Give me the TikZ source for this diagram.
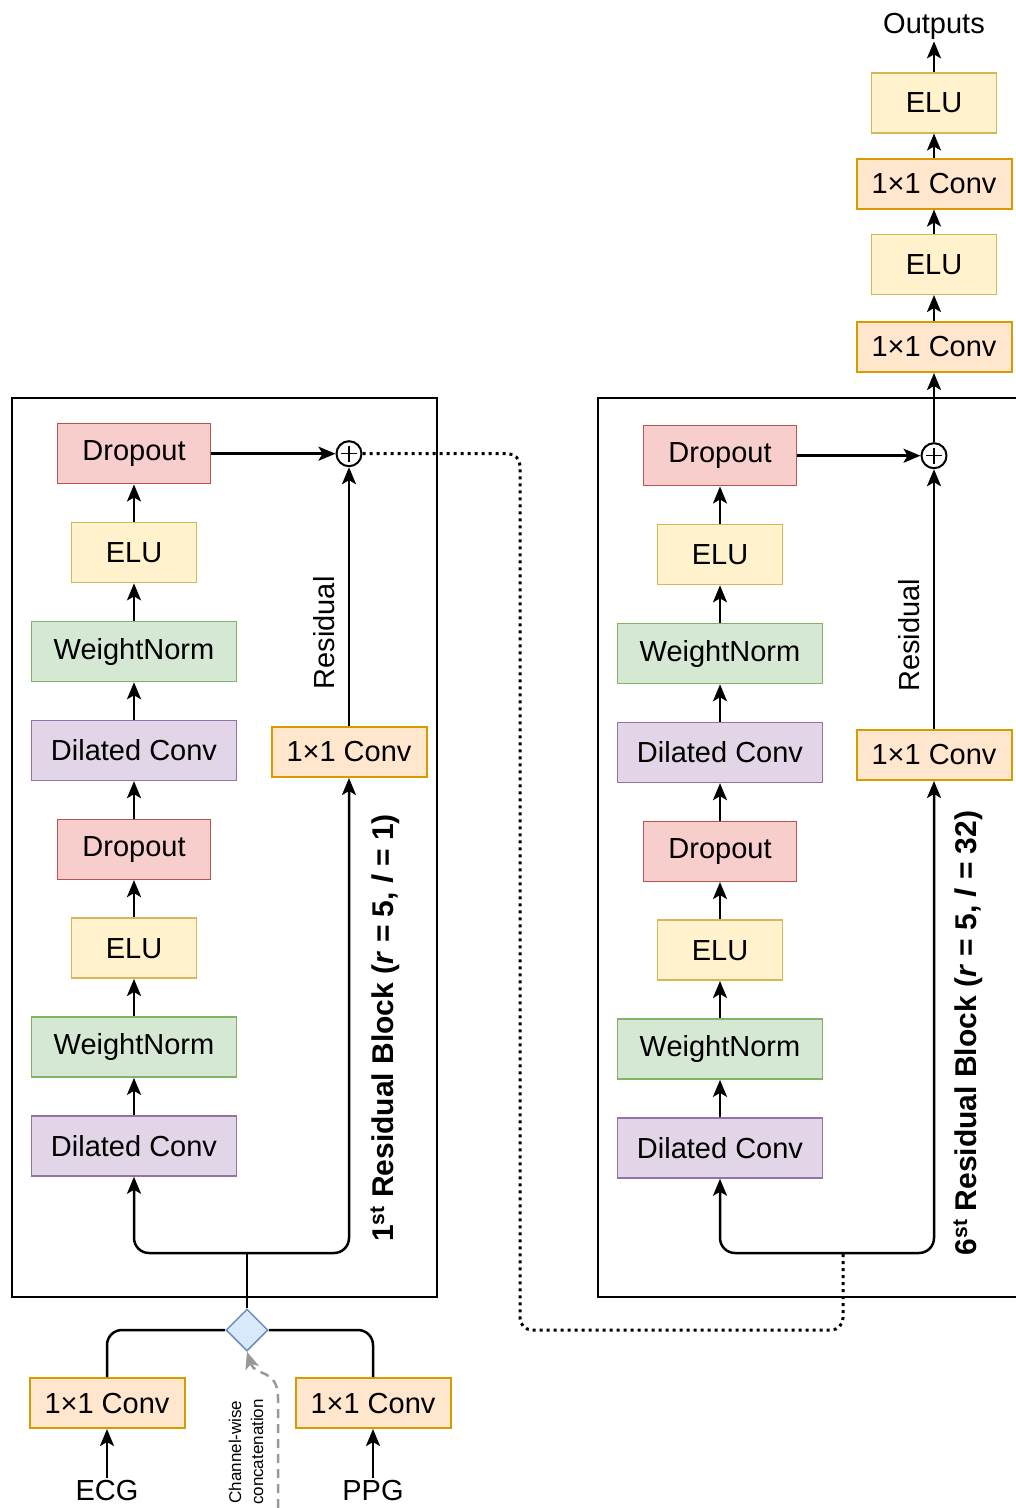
\documentclass[tikz,border=0pt]{standalone}
\usepackage{fontspec}
\setmainfont{Liberation Sans}
\usetikzlibrary{arrows.meta, positioning, calc, shapes.geometric}

\definecolor{dropFill}{HTML}{F8CECC}
\definecolor{dropLine}{HTML}{B85450}
\definecolor{eluFill}{HTML}{FFF2CC}
\definecolor{eluLine}{HTML}{D6B656}
\definecolor{wnFill}{HTML}{D5E8D4}
\definecolor{wnLine}{HTML}{82B366}
\definecolor{dilFill}{HTML}{E1D5E7}
\definecolor{dilLine}{HTML}{9673A6}
\definecolor{convFill}{HTML}{FFE6CC}
\definecolor{convLine}{HTML}{D79B00}
\definecolor{catFill}{HTML}{DAE8FC}
\definecolor{catLine}{HTML}{6C8EBF}

\begin{document}
\begin{tikzpicture}[
x=1pt, y=-1pt,
node distance=37.4pt,
font=\fontsize{29}{34}\selectfont,
>={Stealth[length=17pt,width=14pt,inset=4pt]},
dropbox/.style={
rectangle, draw=dropLine, fill=dropFill, line width=1.5pt,
minimum width=153pt, minimum height=60pt
},
elubox/.style={
rectangle, draw=eluLine, fill=eluFill, line width=1.5pt,
minimum width=125pt, minimum height=60pt
},
wnbox/.style={
rectangle, draw=wnLine, fill=wnFill, line width=1.5pt,
minimum width=205pt, minimum height=60pt
},
dilbox/.style={
rectangle, draw=dilLine, fill=dilFill, line width=1.5pt,
minimum width=205pt, minimum height=60pt
},
convbox/.style={
rectangle, draw=convLine, fill=convFill, line width=2pt,
minimum width=155pt, minimum height=50pt
},
catnode/.style={
diamond, draw=catLine, fill=catFill, line width=1.5pt,
aspect=1, minimum width=42pt, minimum height=42pt, inner sep=0pt
},
sumnode/.style={
circle, draw, line width=2pt, fill=white,
minimum size=25pt, inner sep=0pt,
path picture={
\draw[line width=1.5pt] (path picture bounding box.center) ++(-8pt,0pt) -- ++(16pt,0pt);
\draw[line width=1.5pt] (path picture bounding box.center) ++(0pt,-8pt) -- ++(0pt,16pt);
}
},
plain/.style={inner sep=2pt},
blocklabel/.style={rotate=90, font=\fontsize{30}{34}\selectfont\bfseries},
catlabel/.style={rotate=90, align=center, font=\fontsize{17}{22}\selectfont},
frame/.style={line width=1.8pt, draw=black},
arrow/.style={->, line width=2.5pt},
link/.style={line width=2.5pt},
dotline/.style={line width=3pt, dash pattern=on 3pt off 4pt, rounded corners=12pt},
catarrow/.style={->, line width=2.5pt, draw=black!40, dash pattern=on 9pt off 6pt}
]
\useasboundingbox (0,0) rectangle (1016,1508);

% residual block frames
\draw[frame] (12,398) rectangle (437,1297);
\draw[frame] (1016,398) -- (598,398) -- (598,1297) -- (1016,1297);

% first residual block
\node[dilbox] (dilA1) at (134,1146) {Dilated Conv};
\node[wnbox, above=of dilA1] (wnA1) {WeightNorm};
\node[elubox, above=of wnA1] (eluA1) {ELU};
\node[dropbox, above=of eluA1] (dropA1) {Dropout};
\node[dilbox, above=of dropA1] (dilA2) {Dilated Conv};
\node[wnbox, above=of dilA2] (wnA2) {WeightNorm};
\node[elubox, above=of wnA2] (eluA2) {ELU};
\node[dropbox, above=of eluA2] (dropA2) {Dropout};

\node[convbox] (resA) at (349,752) {1×1 Conv};
\node[sumnode] (sumA) at (resA |- dropA2) {};
\node[blocklabel] (lblA) at (385,1028) {1\textsuperscript{st} Residual Block (\textit{r} = 5, \textit{l} = 1)};
\coordinate (splitA) at (247,1253);

\draw[arrow] (dilA1) -- (wnA1);
\draw[arrow] (wnA1) -- (eluA1);
\draw[arrow] (eluA1) -- (dropA1);
\draw[arrow] (dropA1) -- (dilA2);
\draw[arrow] (dilA2) -- (wnA2);
\draw[arrow] (wnA2) -- (eluA2);
\draw[arrow] (eluA2) -- (dropA2);
\draw[arrow] (dropA2) -- (sumA);
\draw[arrow] (resA) -- node[pos=0.36, rotate=90, anchor=south, inner sep=13pt] {Residual} (sumA);
\draw[arrow, rounded corners=15pt] (splitA) -| (dilA1);
\draw[arrow, rounded corners=15pt] (splitA) -| (resA);

% inputs
\node[catnode] (cat) at (247,1330) {};
\node[convbox] (convECG) at (107,1403) {1×1 Conv};
\node[convbox] (convPPG) at (373,1403) {1×1 Conv};
\node[plain] (ecg) at (107,1490) {ECG};
\node[plain] (ppg) at (373,1490) {PPG};
\node[catlabel] (catText) at (246,1452) {Channel-wise\\concatenation};
\coordinate (catIn) at (278,1508);

\draw[arrow] (ecg) -- (convECG);
\draw[arrow] (ppg) -- (convPPG);
\draw[link, rounded corners=15pt] (convECG) |- (cat);
\draw[link, rounded corners=15pt] (convPPG) |- (cat);
\draw[link] (cat) -- (splitA);
\draw[catarrow] (catIn) -- ++(0,-110) .. controls +(0,-30) and +(8,25) .. (cat.south);

% sixth residual block
\node[dilbox] (dilB1) at (720,1148) {Dilated Conv};
\node[wnbox, above=of dilB1] (wnB1) {WeightNorm};
\node[elubox, above=of wnB1] (eluB1) {ELU};
\node[dropbox, above=of eluB1] (dropB1) {Dropout};
\node[dilbox, above=of dropB1] (dilB2) {Dilated Conv};
\node[wnbox, above=of dilB2] (wnB2) {WeightNorm};
\node[elubox, above=of wnB2] (eluB2) {ELU};
\node[dropbox, above=of eluB2] (dropB2) {Dropout};

\node[convbox] (resB) at (934,755) {1×1 Conv};
\node[sumnode] (sumB) at (resB |- dropB2) {};
\node[blocklabel] (lblB) at (968,1033) {6\textsuperscript{st} Residual Block (\textit{r} = 5, \textit{l} = 32)};
\coordinate (splitB) at (843,1253);

\draw[arrow] (dilB1) -- (wnB1);
\draw[arrow] (wnB1) -- (eluB1);
\draw[arrow] (eluB1) -- (dropB1);
\draw[arrow] (dropB1) -- (dilB2);
\draw[arrow] (dilB2) -- (wnB2);
\draw[arrow] (wnB2) -- (eluB2);
\draw[arrow] (eluB2) -- (dropB2);
\draw[arrow] (dropB2) -- (sumB);
\draw[arrow] (resB) -- node[pos=0.36, rotate=90, anchor=south, inner sep=13pt] {Residual} (sumB);
\draw[arrow, rounded corners=15pt] (splitB) -| (dilB1);
\draw[arrow, rounded corners=15pt] (splitB) -| (resB);

% blocks 2 to 5 skipped
\draw[dotline] (sumA) -| (520,1330) -| (splitB);

% output head
\node[convbox] (convO1) at (934,347) {1×1 Conv};
\node[elubox, above=26pt of convO1] (eluO1) {ELU};
\node[convbox, above=24pt of eluO1] (convO2) {1×1 Conv};
\node[elubox, above=24pt of convO2] (eluO2) {ELU};
\node[plain] (outputs) at (934,26) {Outputs};

\draw[arrow] (sumB) -- (convO1);
\draw[arrow] (convO1) -- (eluO1);
\draw[arrow] (eluO1) -- (convO2);
\draw[arrow] (convO2) -- (eluO2);
\draw[arrow] (eluO2) -- (outputs);

\end{tikzpicture}
\end{document}
